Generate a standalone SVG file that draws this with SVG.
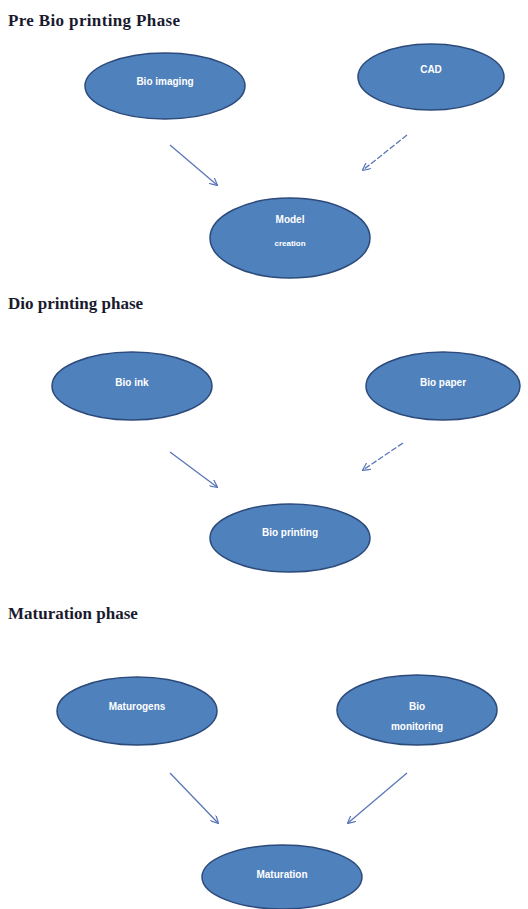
<svg xmlns="http://www.w3.org/2000/svg" width="528" height="909" viewBox="0 0 528 909">
<defs>
<style>
.title{font-family:"Liberation Serif","Times New Roman",serif;font-size:17px;font-weight:bold;fill:#1a1a2e}
.node ellipse{fill:#4f81bd;stroke:#2c4a7a;stroke-width:1.5}
.node text{font-family:"Liberation Sans",Arial,sans-serif;font-size:10px;font-weight:bold;fill:#ffffff;text-anchor:middle}
.conn line{stroke:#5a76b8;stroke-width:1.3;fill:none;marker-end:url(#ah)}
</style>
<marker id="ah" viewBox="0 0 10 10" refX="9" refY="5" markerWidth="8" markerHeight="8" orient="auto" markerUnits="userSpaceOnUse">
<path d="M0,0 L10,5 L0,10" fill="none" stroke="#5a76b8" stroke-width="1.5"/>
</marker>
</defs>
<rect width="528" height="909" fill="#ffffff"/>
<text class="title" x="8" y="26" textLength="172" lengthAdjust="spacing">Pre Bio printing Phase</text>
<text class="title" x="8" y="309">Dio printing phase</text>
<text class="title" x="8" y="619">Maturation phase</text>

<g id="bio-imaging" class="node"><ellipse cx="165" cy="86" rx="80" ry="33"/><text x="165" y="85">Bio imaging</text></g>
<g id="cad" class="node"><ellipse cx="431" cy="77" rx="73" ry="33"/><text x="431" y="73">CAD</text></g>
<g id="model-creation" class="node"><ellipse cx="290" cy="238" rx="80" ry="40"/><text x="290" y="223">Model</text><text x="290" y="246" style="font-size:8px">creation</text></g>

<g id="bio-ink" class="node"><ellipse cx="132" cy="386" rx="80" ry="34"/><text x="132" y="386">Bio ink</text></g>
<g id="bio-paper" class="node"><ellipse cx="443" cy="386" rx="77" ry="34"/><text x="443" y="386">Bio paper</text></g>
<g id="bio-printing" class="node"><ellipse cx="290" cy="538" rx="80" ry="34"/><text x="290" y="536">Bio printing</text></g>

<g id="maturogens" class="node"><ellipse cx="137" cy="711" rx="80" ry="34"/><text x="137" y="710">Maturogens</text></g>
<g id="bio-monitoring" class="node"><ellipse cx="417" cy="710" rx="80" ry="35"/><text x="417" y="710">Bio</text><text x="417" y="730">monitoring</text></g>
<g id="maturation" class="node"><ellipse cx="282" cy="877" rx="80" ry="32"/><text x="282" y="878">Maturation</text></g>

<g id="connectors" class="conn">
<line x1="170" y1="145" x2="217" y2="185"/>
<line x1="407" y1="135" x2="363" y2="170" stroke-dasharray="6 2"/>
<line x1="170" y1="452" x2="217" y2="487"/>
<line x1="403" y1="443" x2="363" y2="470" stroke-dasharray="6 2"/>
<line x1="170" y1="773" x2="218" y2="823"/>
<line x1="407" y1="773" x2="348" y2="823"/>
</g>
</svg>
